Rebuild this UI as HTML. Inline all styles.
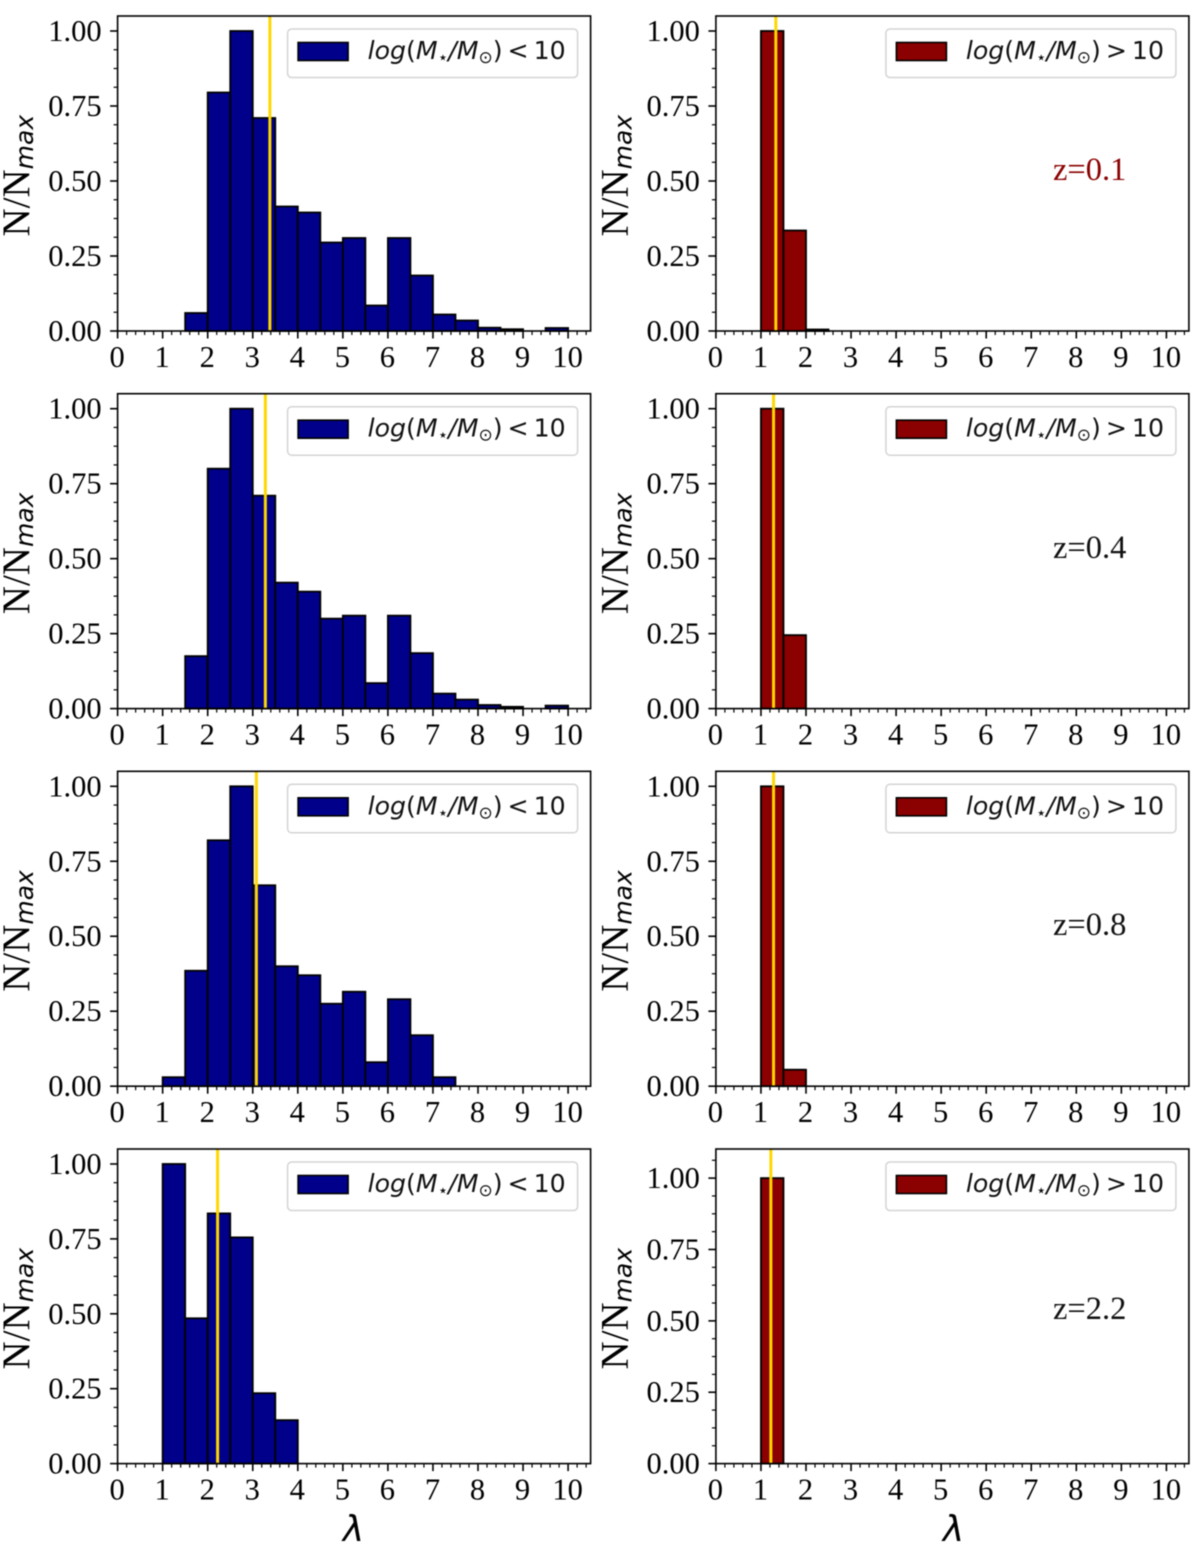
<!DOCTYPE html>
<html lang="en">
<head>
<meta charset="utf-8">
<title>Lambda distributions by stellar mass and redshift</title>
<style>
html,body{margin:0;padding:0;background:#fff;width:1200px;height:1567px;overflow:hidden}
svg{display:block;filter:blur(0.6px)}
.tick{font-family:"Liberation Serif",serif;font-size:30.5px;fill:#000}
.yl{font-family:"Liberation Serif",serif;font-size:39px;fill:#000}
.yls{font-family:"DejaVu Sans",sans-serif;font-style:italic;font-size:25px;fill:#000}
.leg{font-family:"DejaVu Sans",sans-serif;font-size:25.2px;fill:#111}
.z{font-family:"Liberation Serif",serif;font-size:32.5px}
.lam{font-family:"DejaVu Sans",sans-serif;font-style:italic;font-size:36px;fill:#000}
</style>
</head>
<body>
<svg id="fig" xmlns="http://www.w3.org/2000/svg" width="1200" height="1567" viewBox="0 0 1200 1567"></svg>
<script>
const binStarts = [0,0.5,1,1.5,2,2.5,3,3.5,4,4.5,5,5.5,6,6.5,7,7.5,8,8.5,9,9.5];
const lowMassZ01 = [0,0,0,0.06,0.795,1,0.71,0.415,0.395,0.295,0.31,0.085,0.31,0.185,0.055,0.035,0.011,0.006,0,0.01];
const lowMassZ04 = [0,0,0,0.175,0.80,1,0.71,0.42,0.39,0.30,0.31,0.085,0.31,0.185,0.05,0.03,0.012,0.006,0,0.01];
const lowMassZ08 = [0,0,0.03,0.385,0.82,1,0.67,0.40,0.37,0.275,0.315,0.08,0.29,0.17,0.03,0,0,0,0,0];
const lowMassZ22 = [0,0,1,0.485,0.835,0.755,0.235,0.145,0,0,0,0,0,0,0,0,0,0,0,0];
const highMassZ01 = [0,0,1,0.335,0.005,0,0,0,0,0,0,0,0,0,0,0,0,0,0,0];
const highMassZ04 = [0,0,1,0.245,0,0,0,0,0,0,0,0,0,0,0,0,0,0,0,0];
const highMassZ08 = [0,0,1,0.055,0,0,0,0,0,0,0,0,0,0,0,0,0,0,0,0];
const highMassZ22 = [0,0,1,0,0,0,0,0,0,0,0,0,0,0,0,0,0,0,0,0];
const lowMassMeans = [3.38,3.28,3.08,2.22];
const highMassMeans = [1.33,1.28,1.28,1.22];
const redshiftLabels = ["z=0.1","z=0.4","z=0.8","z=2.2"];
const xTickLabels = ["0","1","2","3","4","5","6","7","8","9","10"];
const yTickLabels = ["0.00","0.25","0.50","0.75","1.00"];

const NS = "http://www.w3.org/2000/svg";
const fig = document.getElementById("fig");
function mk(parent, tag, attrs, text){
  const e = document.createElementNS(NS, tag);
  for (const k in attrs) e.setAttribute(k, attrs[k]);
  if (text !== undefined) e.textContent = text;
  parent.appendChild(e);
  return e;
}
const rowTops = [16,393.7,771.3,1149];
const rowBottoms = [331,708.6,1086.2,1463.6];
const lowSeries = [lowMassZ01,lowMassZ04,lowMassZ08,lowMassZ22];
const highSeries = [highMassZ01,highMassZ04,highMassZ08,highMassZ22];
const zBaselines = [180,558,935,1319];

function drawPanel(row, isHigh){
  const left = isHigh ? 715.9 : 117.6;
  const right = left + 473;
  const top = rowTops[row], bottom = rowBottoms[row];
  const yMax = (isHigh && row === 3) ? 1.102 : 1.05;
  const sx = v => left + v * 45.05;
  const sy = v => bottom - v * (bottom - top) / yMax;
  const vals = isHigh ? highSeries[row] : lowSeries[row];
  const mean = isHigh ? highMassMeans[row] : lowMassMeans[row];
  const color = isHigh ? "#8b0000" : "#00008b";

  const g = mk(fig, "g", {});
  
  

  binStarts.forEach((b, i) => {
    if (vals[i] <= 0) return;
    const bar = mk(g, "rect", {x: sx(b), y: sy(vals[i]), width: sx(b + 0.5) - sx(b), height: bottom - sy(vals[i]), fill: color, stroke: "#000", "stroke-width": 1.8});
    
    
  });

  const meanLine = mk(g, "line", {x1: sx(mean), x2: sx(mean), y1: top, y2: bottom, stroke: "#ffd700", "stroke-width": 3});
  
  

  const frame = mk(g, "rect", {x: left, y: top, width: right - left, height: bottom - top, fill: "none", stroke: "#000", "stroke-width": 1.6});
  
  

  const xAxis = mk(g, "g", {});
  
  
  for (let i = 0; i <= 52; i++){
    const v = i * 0.2;
    const isMajor = i % 5 === 0;
    mk(xAxis, "line", {x1: sx(v), x2: sx(v), y1: bottom, y2: bottom + (isMajor ? 7.5 : 4), stroke: "#000", "stroke-width": isMajor ? 1.6 : 1.2});
  }
  xTickLabels.forEach((t, i) => {
    const lab = mk(xAxis, "text", {x: sx(+t) - 0.5, y: bottom + 36, "text-anchor": "middle", "class": "tick"}, t);
    
    
  });

  const yAxis = mk(g, "g", {});
  
  
  for (let i = 0; i * 0.0625 <= yMax; i++){
    const v = i * 0.0625;
    const isMajor = i % 4 === 0;
    mk(yAxis, "line", {x1: left, x2: left - (isMajor ? 7.5 : 4), y1: sy(v), y2: sy(v), stroke: "#000", "stroke-width": isMajor ? 1.6 : 1.2});
  }
  yTickLabels.forEach(t => {
    const lab = mk(yAxis, "text", {x: left - 16, y: sy(+t) + 10, "text-anchor": "end", "class": "tick"}, t);
    
    
  });

  const baseX = left - 88.5, baseY = top + 220.5;
  const yTitle = mk(g, "text", {transform: "translate(" + baseX + "," + baseY + ") rotate(-90)", "class": "yl"});
  
  
  mk(yTitle, "tspan", {}, "N/N");
  mk(yTitle, "tspan", {"class": "yls", dy: 4}, "max");

  const legend = mk(g, "g", {});
  
  
  const legY = top + 13, legX = right - 303;
  mk(legend, "rect", {x: legX, y: legY, width: 290, height: 48.5, rx: 4, fill: "#fff", stroke: "#d4d4d4", "stroke-width": 1.5});
  const swatch = mk(legend, "rect", {x: legX + 10.5, y: legY + 13.5, width: 50, height: 18, fill: color, stroke: "#000", "stroke-width": 1.6});
  
  
  const legText = mk(legend, "text", {x: legX + 80, y: legY + 30, "class": "leg"});
  
  
  mk(legText, "tspan", {"font-style": "italic"}, "log");
  mk(legText, "tspan", {}, "(");
  mk(legText, "tspan", {"font-style": "italic"}, "M");
  mk(legText, "tspan", {"font-size": "17", dy: 4}, "\u22C6");
  mk(legText, "tspan", {"font-style": "italic", dy: -4}, "/M");
  mk(legText, "tspan", {"font-size": "17", dy: 4}, "\u2299");
  mk(legText, "tspan", {dy: -4}, ")");
  mk(legText, "tspan", {dx: 5}, isHigh ? ">" : "<");
  mk(legText, "tspan", {dx: 5}, "10");

  if (isHigh){
    const zText = mk(g, "text", {x: 1053, y: zBaselines[row], "class": "z", fill: row === 0 ? "#8b0000" : "#111"}, redshiftLabels[row]);
    
    
  }
  if (row === 3){
    const lam = mk(g, "text", {x: isHigh ? 953.5 : 353.5, y: 1541, "text-anchor": "middle", "class": "lam"}, "\u03BB");
    
    
  }
}
for (let r = 0; r < 4; r++){
  drawPanel(r, false);
  drawPanel(r, true);
}
</script>
</body>
</html>
